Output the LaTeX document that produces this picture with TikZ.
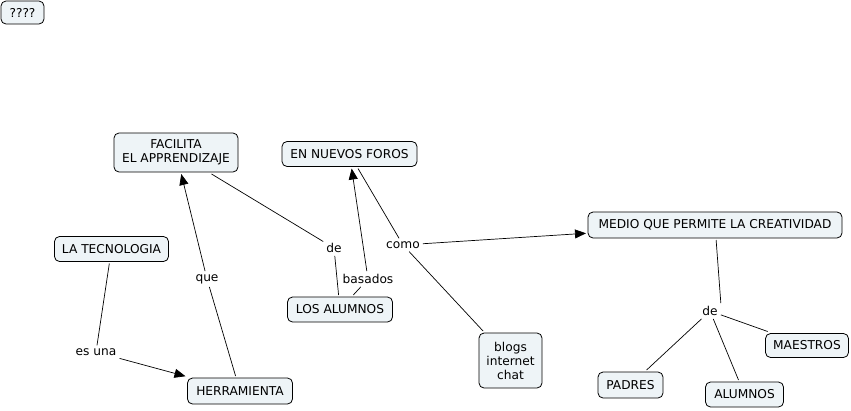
\documentclass[tikz,border=0pt]{standalone}
\usepackage{fontspec}
\setmainfont{DejaVu Sans}
\usetikzlibrary{arrows.meta}
\definecolor{boxfill}{RGB}{238,244,247}
\tikzset{
  box/.style={draw, line width=0.8pt, rounded corners=5pt, fill=boxfill, inner sep=0pt,
    align=center, outer sep=2pt, font=\fontsize{12.2}{14}\selectfont},
  lbl/.style={inner sep=3pt, font=\fontsize{12.2}{14}\selectfont},
  conn/.style={draw, line width=0.7pt},
  arr/.style={conn, -{Triangle[length=11pt,width=9pt]}}
}
\begin{document}
\begin{tikzpicture}[x=1pt,y=-1pt]
\useasboundingbox (0,0) rectangle (851,410);
% boxes
\node[box, minimum width=43pt, minimum height=23pt] (q) at (22.5,12.5) {????};
\node[box, minimum width=124pt, minimum height=39pt] (fac) at (176,152.5) {FACILITA\\EL APPRENDIZAJE};
\node[box, minimum width=135pt, minimum height=25pt] (foros) at (349.5,154) {EN NUEVOS FOROS};
\node[box, minimum width=114pt, minimum height=25pt] (tec) at (111.5,249) {LA TECNOLOGIA};
\node[box, minimum width=105pt, minimum height=25pt] (losal) at (340,309.5) {LOS ALUMNOS};
\node[box, minimum width=105pt, minimum height=26pt] (herr) at (240,391) {HERRAMIENTA};
\node[box, minimum width=254pt, minimum height=26pt] (medio) at (715,225) {MEDIO QUE PERMITE LA CREATIVIDAD};
\node[box, minimum width=63pt, minimum height=55pt] (blogs) at (510.5,360.5) {blogs\\internet\\chat};
\node[box, minimum width=65pt, minimum height=26pt] (padres) at (630.5,385) {PADRES};
\node[box, minimum width=78pt, minimum height=25pt] (alumnos) at (744.5,394.5) {ALUMNOS};
\node[box, minimum width=83pt, minimum height=24pt] (maestros) at (807,345.5) {MAESTROS};
% labels
\node[lbl] (de1) at (334,248) {de};
\node[lbl] (bas) at (368,279) {basados};
\node[lbl] (como) at (403,245) {como};
\node[lbl] (que) at (207,279) {que};
\node[lbl] (esuna) at (96,352) {es una};
\node[lbl] (de2) at (710,311) {de};
% connectors
\draw[conn] (fac) -- (de1);
\draw[conn] (de1) -- (losal);
\draw[conn] (losal) -- (bas);
\draw[arr] (bas) -- (foros);
\draw[conn] (foros) -- (como);
\draw[arr] (como) -- (medio);
\draw[conn] (como) -- (blogs);
\draw[conn] (herr) -- (que);
\draw[arr] (que) -- (fac);
\draw[conn] (tec) -- (esuna);
\draw[arr] (esuna) -- (herr);
\draw[conn] (medio) -- (de2.north east);
\draw[conn] (de2) -- (padres);
\draw[conn] (de2) -- (alumnos);
\draw[conn] (de2) -- (maestros);
\end{tikzpicture}
\end{document}
